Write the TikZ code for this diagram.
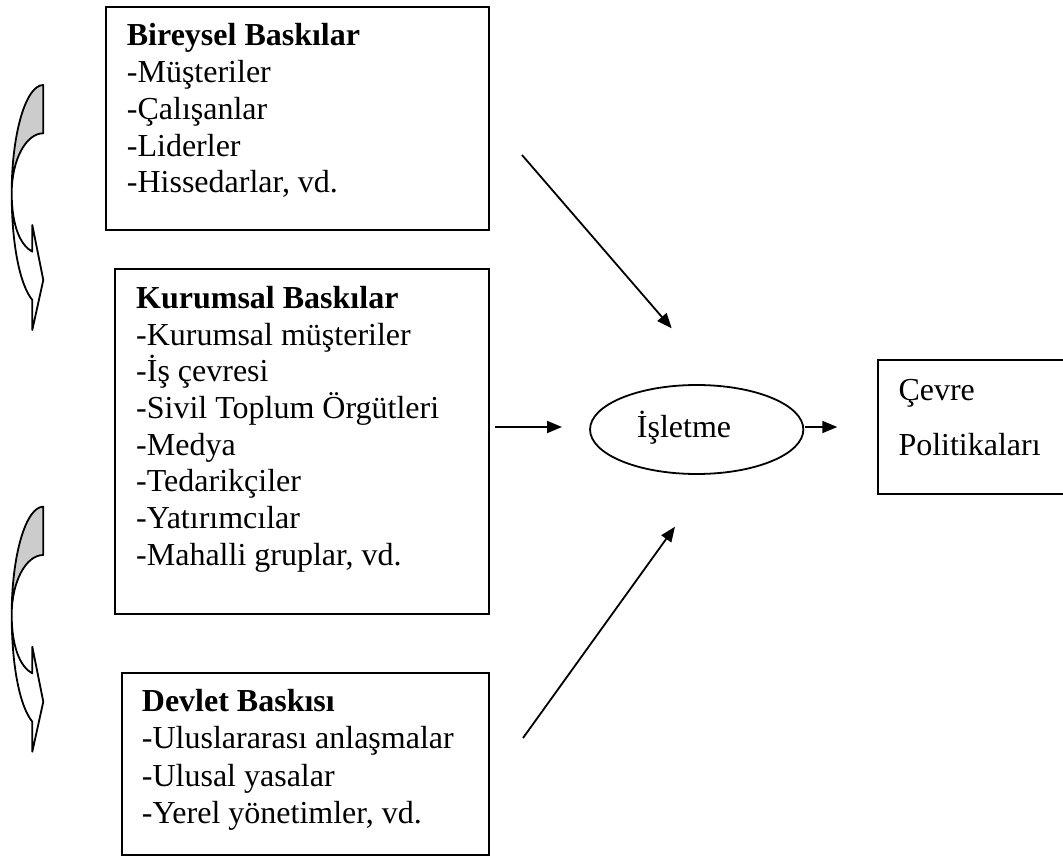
\documentclass[tikz,border=0pt]{standalone}
\usepackage{fontspec}
\setmainfont{Liberation Serif}
\usetikzlibrary{arrows.meta,shapes.geometric}
\definecolor{ribbon}{RGB}{204,204,204}
\tikzset{
  frame/.style={draw, line width=1.8pt, rectangle, inner sep=0pt, anchor=north west},
  txt/.style={anchor=base west, inner sep=0pt, font=\fontsize{32}{37}\selectfont},
  conn/.style={line width=1.8pt, -{Triangle[length=15pt,width=12pt]}},
  ribbonline/.style={line width=1.8pt, line join=round},
}
\begin{document}
\begin{tikzpicture}[x=1pt, y=-1pt]
\useasboundingbox (0,0) rectangle (1063,856);

% pressure boxes
\node[frame, minimum width=382.7pt, minimum height=223pt]   (b1) at (105,6) {};
\node[frame, minimum width=373.7pt, minimum height=345.6pt] (b2) at (114,267.7) {};
\node[frame, minimum width=366.7pt, minimum height=182.3pt] (b3) at (121,671.7) {};
\node[frame, minimum width=187.3pt, minimum height=134.3pt] (b4) at (876.7,359) {};

% box contents
\foreach \t [count=\i from 0] in {{\textbf{Bireysel Baskılar}}, -Müşteriler, -Çalışanlar, -Liderler, {-Hissedarlar, vd.}}
  \node[txt] (bt\i) at (126.7, {45.7+36.8*\i}) {\t};
\foreach \t [count=\i from 0] in {{\textbf{Kurumsal Baskılar}}, -Kurumsal müşteriler, -İş çevresi, -Sivil Toplum Örgütleri, -Medya, -Tedarikçiler, -Yatırımcılar, {-Mahalli gruplar, vd.}}
  \node[txt] (kt\i) at (136, {308.3+36.7*\i}) {\t};
\foreach \t [count=\i from 0] in {{\textbf{Devlet Baskısı}}, -Uluslararası anlaşmalar, -Ulusal yasalar, {-Yerel yönetimler, vd.}}
  \node[txt] (dt\i) at (141.7, {711.7+37.2*\i}) {\t};
\node[txt] (ct1) at (898.3,400) {Çevre};
\node[txt] (ct2) at (898.3,455) {Politikaları};

% the firm
\node[draw, ellipse, line width=1.8pt, inner sep=0pt,
      minimum width=213.3pt, minimum height=89pt] (firm) at (696.7,429.5) {};
\node[txt] (firmlbl) at (636.7,437) {İşletme};

% connector ends
\coordinate (s1) at (522,155);
\coordinate (e1) at (671.7,328.3);
\coordinate (s2) at (495,427);
\coordinate (e2) at (562,427);
\coordinate (s3) at (523,738);
\coordinate (e3) at (675,526.7);
\coordinate (s4) at (805,427);
\coordinate (e4) at (837.3,427);

\draw[conn] (s1) -- (e1);
\draw[conn] (s2) -- (e2);
\draw[conn] (s3) -- (e3);
\draw[conn] (s4) -- (e4);

% curved ribbon arrows on the left
\foreach \dy in {0,421.7} {
  \begin{scope}[shift={(0,\dy)}]
    \fill[ribbon] (43.3,85) .. controls (25.9,85) and (11.7,133.4) .. (11.7,193)
                  .. controls (11.7,160) and (25.9,133.3) .. (43.3,133.3) -- cycle;
    \draw[ribbonline] (43.3,85) .. controls (25.9,85) and (11.7,133.4) .. (11.7,193)
                .. controls (11.7,245) and (20,285) .. (32.3,300)
                -- (32.3,330) -- (43.3,280) -- (32.3,225) -- (32.3,251.7)
                .. controls (20,245) and (11.7,225) .. (11.7,193)
                .. controls (11.7,160) and (25.9,133.3) .. (43.3,133.3)
                -- cycle;
  \end{scope}
}
\end{tikzpicture}
\end{document}
